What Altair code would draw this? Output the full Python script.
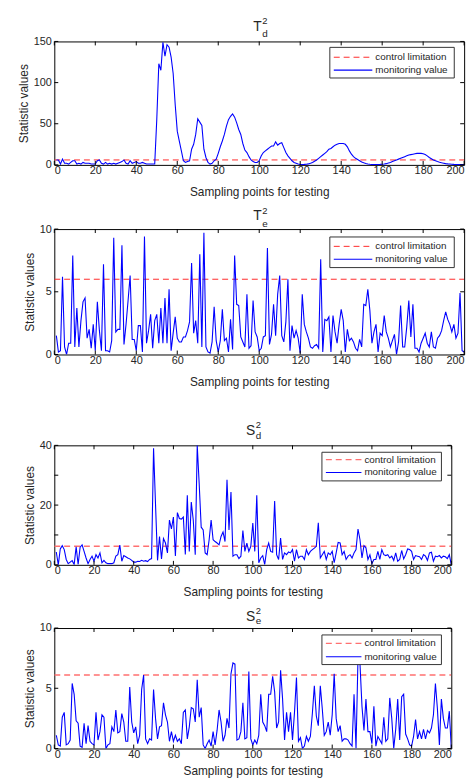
import altair as alt
import pandas as pd

# ---------------- data ----------------
x_ticks = [0, 20, 40, 60, 80, 100, 120, 140, 160, 180, 200]
series_names = ["control limitation", "monitoring value"]

td2 = [6, 6, 1, 7, 2, 2, 1, 3, 5, 5,
       1, 2, 1, 3, 2, 2, 2, 1, 1, 1,
       5, 6, 2, 1, 3, 1, 2, 1, 2, 1,
       2, 3, 4, 6, 2, 1, 5, 2, 3, 4,
       2, 2, 3, 2, 1, 1, 1, 1, 1, 55,
       123, 115, 149, 132, 146, 143, 131, 111, 73, 41,
       29, 17, 5, 3, 4, 5, 19, 25, 37, 56,
       52, 48, 19, 9, 3, 1, 2, 5, 7, 14,
       22, 29, 37, 47, 55, 59, 62, 58, 51, 43,
       37, 26, 18, 15, 10, 6, 4, 3, 3, 5,
       11, 15, 17, 19, 21, 23, 23, 28, 24, 26,
       27, 21, 15, 11, 8, 5, 3, 2, 1, 0.5,
       0.5, 0.6, 0.8, 1.2, 2, 3, 4.5, 6, 8, 10,
       12, 14, 16, 19, 20, 22, 24, 25, 26, 26,
       26, 25, 22, 17, 13, 10, 8, 6.5, 5, 3.5,
       2.5, 1.7, 1, 0.7, 0.5, 0.4, 0.4, 0.5, 0.6, 0.8,
       1, 1.5, 2.2, 3, 4, 5, 6, 7, 8, 9,
       10, 11, 12, 12.5, 13, 13.5, 14, 14, 14, 13.5,
       12.5, 11, 9, 7.5, 6, 5, 4, 3.2, 2.5, 2,
       1.5, 1.2, 1, 0.8, 0.6, 0.5, 0.5, 0.5, 0.5, 0.5]

te2 = [1.5, 0.2, 0.3, 6.2, 0.6, 0, 0.9, 0.9, 7.9, 0.6,
       3.7, 0.6, 2.7, 4.2, 4.5, 1.3, 2.0, 0.5, 2.4, 0.3,
       4.2, 1.9, 0.3, 7.2, 0.3, 0.3, 0.2, 1.1, 9.3, 1.8,
       2.0, 2.0, 8.7, 0.8, 2.4, 4.3, 6.3, 1.2, 1.2, 0.3,
       2.3, 2.3, 0.2, 9.4, 0.9, 1.9, 3.2, 0.5, 2.7, 3.2,
       0.9, 3.7, 0.9, 4.5, 0.9, 5.2, 0.3, 1.7, 3.0, 1.3,
       1.0, 1.0, 1.4, 1.4, 1.9, 2.6, 7.3, 1.7, 2.7, 0.9,
       8.0, 0.6, 9.7, 0.6, 0.2, 0.1, 1.0, 3.8, 1.1, 0.2,
       1.1, 3.6, 1.1, 1.3, 0.2, 2.8, 0.4, 7.9, 4.0, 3.9,
       1.4, 1.0, 0.6, 4.8, 0.5, 0.7, 4.3, 1.8, 1.4, 0.3,
       0.5, 1.4, 1.5, 8.5, 0.8, 1.6, 4.0, 1.5, 4.8, 6.3,
       1.5, 1.0, 2.6, 6.0, 0.3, 2.3, 1.3, 1.9, 1.3, 0.1,
       4.8, 2.4, 1.8, 1.3, 0.6, 0.5, 0.7, 0.8, 0.5, 7.6,
       0.2, 2.8, 2.7, 3.0, 0.2, 3.1, 1.8, 0.9, 2.4, 3.6,
       2.7, 0.2, 2.0, 1.1, 1.3, 1.0, 0.5, 0.3, 1.2, 0.6,
       4.0, 3.9, 5.2, 3.5, 0.9, 1.8, 2.4, 0.2, 1.7, 1.5,
       3.1, 1.8, 1.3, 0.6, 1.1, 1.6, 0, 1.0, 3.9, 0.6,
       0.6, 2.2, 4.3, 1.4, 4.0, 0.5, 0.5, 0.2, 0.9, 1.3,
       1.7, 0.9, 0.6, 1.8, 0.6, 0.5, 1.3, 1.5, 1.9, 2.7,
       3.4, 2.8, 2.4, 1.8, 2.4, 1.3, 1.7, 4.9, 0.3, 0.2]

sd2 = [4.3, 0, 5.3, 6.4, 5.1, 1.8, 0.4, 0.9, 1.4, 0.1,
       6.0, 0.1, 5.9, 6.7, 4.5, 2.3, 0.4, 1.8, 2.9, 1.2,
       3.4, 2.3, 4.0, 0.7, 1.5, 0.7, 0.4, 0.4, 0.4, 0.7,
       2.9, 3.4, 6.6, 1.2, 3.1, 2.7, 2.3, 2.0, 1.5, 0.9,
       0.9, 1.2, 1.1, 1.5, 1.2, 1.4, 1.1, 1.8, 2.1, 39,
       20, 1.5, 9.5, 2, 8.8, 7.3, 4, 15, 12, 16,
       3, 17.5, 15.5, 15.3, 16, 3.5, 23.3, 4.5, 21, 15,
       3.4, 40, 27, 12.6, 11.7, 4, 3.4, 8.4, 15, 8.4,
       7.8, 7.3, 6.7, 9.5, 11, 7.8, 28.5, 11.7, 24.4, 2.9,
       3.4, 3.4, 2.1, 2.9, 11.5, 4.5, 7.3, 4.5, 6.2, 14,
       4.5, 23.3, 0.7, 2.3, 3.1, 0.1, 5.1, 7.3, 4.5, 4.2,
       21.4, 3.4, 1.8, 9, 1.8, 4.0, 3.4, 4.3, 4.0, 5.1,
       1.2, 5.1, 2.3, 2.9, 2.9, 1.8, 5.1, 3.4, 4.5, 5.1,
       5.6, 6.2, 14.1, 2.3, 3.4, 4.5, 1.8, 4.0, 3.4, 4.5,
       0.7, 4.0, 7.5, 7.3, 3.4, 4.5, 1.8, 2.9, 3.4, 2.3,
       4.0, 5.1, 12, 8.4, 2.3, 6.4, 5.7, 1.8, 3.4, 0.4,
       1.8, 1.8, 4.5, 1.8, 5.1, 3.4, 3.1, 3.4, 2.3, 2.9,
       1.5, 4.0, 1.2, 1.8, 4.8, 2.0, 3.4, 5.3, 5.1, 4.5,
       1.8, 3.1, 2.9, 2.7, 1.8, 3.4, 2.9, 1.5, 4.0, 4.2,
       1.2, 2.9, 2.7, 3.1, 2.3, 2.9, 2.7, 2.1, 3.4, 0.1]

se2 = [1.1, 0.3, 0.2, 2.6, 3.0, 0.3, 0.4, 0.7, 5.4, 4.5,
       2.3, 2.1, 0.2, 0.1, 2.1, 0.4, 1.9, 0.6, 0.4, 0.3,
       3.0, 0.7, 1.4, 2.8, 2.6, 0, 0.3, 0.4, 1.8, 1.4,
       3.2, 1.3, 1.4, 2.9, 2.2, 0.6, 0.6, 5.1, 2.2, 1.3,
       1.8, 0.4, 1.1, 4.9, 6.1, 0.8, 0.4, 0.8, 0.7, 4.9,
       2.5, 0.8, 1.8, 1.9, 3.8, 2.8, 2.2, 0.6, 1.4, 0.6,
       1.1, 0.6, 0.8, 0.4, 3.0, 3.2, 0.8, 1.8, 3.4, 3.3,
       2.2, 5.7, 2.6, 3.4, 0.3, 0, 0.4, 0.7, 0.2, 1.4,
       0.3, 1.5, 3.2, 2.2, 0.6, 1.1, 2.5, 1.7, 6.2, 7.1,
       7.0, 0.7, 0.8, 1.4, 3.8, 0.8, 0.9, 6.4, 0.8, 0.3,
       0.7, 0.4, 1.1, 4.5, 2.2, 1.9, 1.4, 4.5, 4.5, 6.0,
       4.7, 1.7, 2.2, 6.5, 4.1, 0.7, 3.0, 1.4, 3.0, 0.7,
       3.0, 5.9, 0.6, 0.9, 0, 0.2, 1.0, 0.6, 1.0, 2.9,
       5.2, 2.7, 1.9, 5.2, 3.3, 1.1, 1.4, 2.2, 1.1, 2.8,
       6.2, 2.5, 1.4, 1.9, 0.6, 0.8, 0.8, 0.7, 0.4, 0.2,
       4.5, 0, 7.6, 7.0, 3.5, 1.5, 4.1, 1.4, 1.4, 0.4,
       3.5, 0.2, 1.0, 0.7, 0.4, 2.6, 0.6, 0.8, 4.2, 2.5,
       0, 1.6, 4.1, 0.7, 4.3, 4.5, 1.2, 0.8, 0.3, 0.2,
       1.0, 2.4, 0.8, 1.4, 0.8, 1.6, 0.8, 1.5, 1.3, 1.7,
       2.8, 5.4, 3.3, 0.3, 4.1, 2.5, 1.7, 1.7, 3.1, 0]

control_limits = [6.0, 6.0, 6.2, 6.1]
y_maxes = [150, 10, 40, 10]
y_tick_sets = [[0, 50, 100, 150], [0, 5, 10], [0, 10, 20, 30, 40], [0, 5, 10]]
title_letters = [("T", "d"), ("T", "e"), ("S", "d"), ("S", "e")]

# ---------------- style / layout ----------------
FONT = "Liberation Sans"
TXT = "#262626"
BLUE = "#0000ff"
FULL_W = 475

geoms = [
    dict(left=50, w=415, top=36, h=125, bottom=39, red="#ff2a2a", redw=1.0,
         box=(279, 405, 6, 37), rows=(16, 29), sym=(283, 322), tx=325,
         t_main=-11, t_sup=-17.5, t_sub=-4.5, xtp=11, ytp=2.5),
    dict(left=50, w=415, top=24, h=127, bottom=54, red="#ff2a2a", redw=1.0,
         box=(279, 405, 8, 39), rows=(17.5, 30.5), sym=(283, 322), tx=325,
         t_main=-9, t_sup=-15.5, t_sub=-2.5, xtp=11, ytp=2.5),
    dict(left=54, w=402, top=36, h=121, bottom=40, red="#ff7070", redw=1.4,
         box=(271, 392, 7, 36), rows=(14.5, 27.5), sym=(275, 311), tx=314,
         t_main=-10, t_sup=-17.5, t_sub=-6, xtp=11, ytp=3),
    dict(left=54, w=402, top=21, h=122, bottom=33, red="#ff7070", redw=1.4,
         box=(271, 392, 7, 37), rows=(15.5, 29), sym=(275, 311), tx=314,
         t_main=-7, t_sup=-14.5, t_sub=-4, xtp=6, ytp=3),
]

one = pd.DataFrame({"a": [0]})


def panel(vals, limit, ymax, yticks, letters, g):
    W, H = g["w"], g["h"]
    mon = pd.DataFrame({"x": list(range(1, len(vals) + 1)), "v": vals})
    ctl = pd.DataFrame({"x": [0, 200], "v": [limit, limit]})

    xs = alt.Scale(domain=[0, 200], nice=False)
    ys = alt.Scale(domain=[0, ymax], nice=False)

    ctl_line = alt.Chart(ctl).mark_line(clip=True, color=g["red"], strokeWidth=g["redw"],
                                        strokeDash=[6, 4]).encode(
        x=alt.X("x:Q", scale=xs, axis=alt.Axis(values=x_ticks, title="Sampling points for testing",
                                               labelPadding=0, titlePadding=g["xtp"])),
        y=alt.Y("v:Q", scale=ys, axis=alt.Axis(values=yticks, title="Statistic values",
                                               labelPadding=3, titlePadding=g["ytp"])),
    )
    mon_line = alt.Chart(mon).mark_line(clip=True, color=BLUE, strokeWidth=1.1).encode(
        x=alt.X("x:Q", scale=xs), y=alt.Y("v:Q", scale=ys))

    xt = pd.DataFrame({"x": x_ticks})
    yt = pd.DataFrame({"v": yticks})
    tick_b = alt.Chart(xt).mark_rule(color="black", strokeWidth=1).encode(
        x=alt.X("x:Q", scale=xs), y=alt.value(H), y2=alt.value(H - 4))
    tick_t = alt.Chart(xt).mark_rule(color="black", strokeWidth=1).encode(
        x=alt.X("x:Q", scale=xs), y=alt.value(0), y2=alt.value(4))
    tick_l = alt.Chart(yt).mark_rule(color="black", strokeWidth=1).encode(
        y=alt.Y("v:Q", scale=ys), x=alt.value(0), x2=alt.value(4))
    tick_r = alt.Chart(yt).mark_rule(color="black", strokeWidth=1).encode(
        y=alt.Y("v:Q", scale=ys), x=alt.value(W), x2=alt.value(W - 4))

    # title  (letter, superscript 2, subscript)
    c = W / 2.0
    t_main = alt.Chart(one).mark_text(text=letters[0], font=FONT, fontSize=14, color=TXT,
                                      align="right", baseline="alphabetic").encode(
        x=alt.value(c + 2.5), y=alt.value(g["t_main"]))
    t_sup = alt.Chart(one).mark_text(text="2", font=FONT, fontSize=9.5, color=TXT,
                                     align="left", baseline="alphabetic").encode(
        x=alt.value(c + 3), y=alt.value(g["t_sup"]))
    t_sub = alt.Chart(one).mark_text(text=letters[1], font=FONT, fontSize=10, color=TXT,
                                     align="left", baseline="alphabetic").encode(
        x=alt.value(c + 3), y=alt.value(g["t_sub"]))

    # legend box (inside, top right)
    bx0, bx1, by0, by1 = g["box"]
    r1, r2 = g["rows"]
    s0, s1 = g["sym"]
    leg_box = alt.Chart(one).mark_rect(fill="white", stroke="#333333", strokeWidth=1).encode(
        x=alt.value(bx0), x2=alt.value(bx1), y=alt.value(by0), y2=alt.value(by1))
    leg_s1 = alt.Chart(one).mark_rule(color=g["red"], strokeWidth=g["redw"], strokeDash=[6, 4]).encode(
        x=alt.value(s0), x2=alt.value(s1), y=alt.value(r1))
    leg_s2 = alt.Chart(one).mark_rule(color=BLUE, strokeWidth=1.1).encode(
        x=alt.value(s0), x2=alt.value(s1), y=alt.value(r2))
    leg_t1 = alt.Chart(one).mark_text(text=series_names[0], font=FONT, fontSize=10, color=TXT,
                                      align="left", baseline="middle").encode(
        x=alt.value(g["tx"]), y=alt.value(r1))
    leg_t2 = alt.Chart(one).mark_text(text=series_names[1], font=FONT, fontSize=10, color=TXT,
                                      align="left", baseline="middle").encode(
        x=alt.value(g["tx"]), y=alt.value(r2))

    # invisible layout spacer fixing the panel's full extent
    spacer = alt.Chart(one).mark_rule(opacity=0, strokeOpacity=0, strokeWidth=0.001,
                                      color="white").encode(
        x=alt.value(-g["left"]), x2=alt.value(FULL_W - g["left"]),
        y=alt.value(-g["top"]), y2=alt.value(H + g["bottom"]))

    return alt.layer(ctl_line, mon_line, tick_b, tick_t, tick_l, tick_r,
                     t_main, t_sup, t_sub,
                     leg_box, leg_s1, leg_s2, leg_t1, leg_t2, spacer).properties(width=W, height=H)


all_vals = [td2, te2, sd2, se2]
panels = [panel(all_vals[i], control_limits[i], y_maxes[i], y_tick_sets[i], title_letters[i], geoms[i])
          for i in range(4)]

chart = alt.vconcat(*panels, spacing=0).resolve_scale(
    x="independent", y="independent"
).properties(
    padding=0, background="white"
).configure_view(
    stroke="black", strokeWidth=1
).configure_axis(
    grid=False, domain=False, ticks=False, tickSize=0,
    labelFont=FONT, labelFontSize=11, labelColor=TXT,
    titleFont=FONT, titleFontSize=12, titleFontWeight="normal", titleColor=TXT,
)

chart.save("out.html", embed_options={"renderer": "svg", "actions": False})
